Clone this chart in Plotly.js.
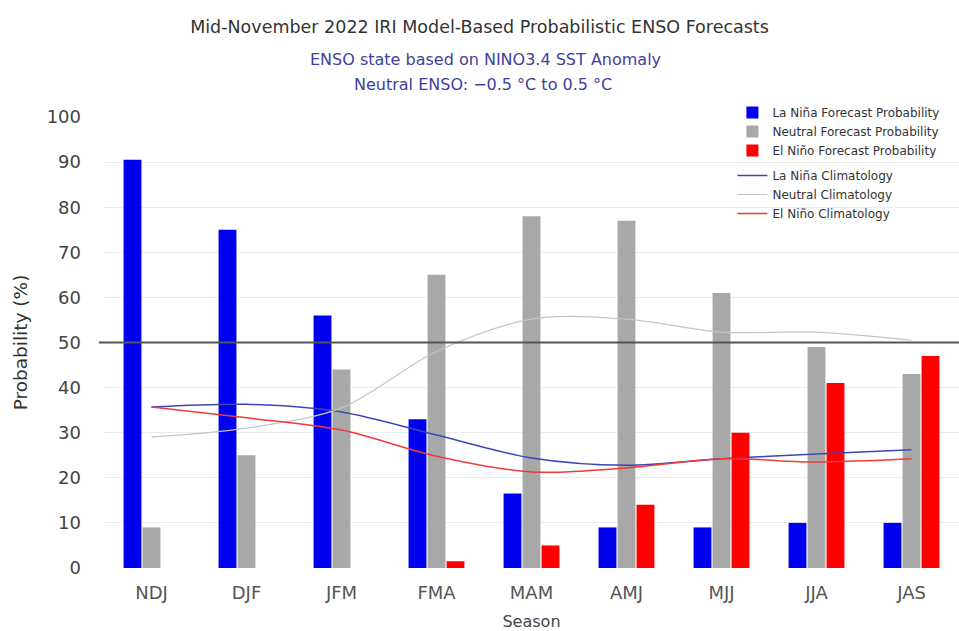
<!DOCTYPE html>
<html>
<head>
<meta charset="utf-8">
<script src="https://cdn.plot.ly/plotly-3.0.1.min.js"></script>
<style>html,body{margin:0;padding:0;background:#fff;}#chart{width:959px;height:631px;}</style>
</head>
<body>
<div id="chart"></div>
<script>
const seasons = ['NDJ','DJF','JFM','FMA','MAM','AMJ','MJJ','JJA','JAS'];
const laNinaProb = [90.5, 75, 56, 33, 16.5, 9, 9, 10, 10];
const neutralProb = [9, 25, 44, 65, 78, 77, 61, 49, 43];
const elNinoProb = [0, 0, 0, 1.5, 5, 14, 30, 41, 47];
const laNinaClim = [35.7, 36.3, 34.6, 29.5, 24.4, 22.8, 24.2, 25.3, 26.2];
const neutralClim = [29, 31, 35.5, 48, 55.2, 55.2, 52.3, 52.3, 50.5];
const elNinoClim = [35.7, 33.3, 30.6, 24.8, 21.3, 22.2, 24.2, 23.5, 24.2];
const yTicks = [0,10,20,30,40,50,60,70,80,90,100];

const FONT = 'DejaVu Sans, Verdana, sans-serif';

const traces = [
  {type:'bar', x:seasons, y:laNinaProb, name:'La Niña Forecast Probability', marker:{color:'#0000f0'}, legendgroup:'a'},
  {type:'bar', x:seasons, y:neutralProb, name:'Neutral Forecast Probability', marker:{color:'#a8a8a8'}, legendgroup:'a'},
  {type:'bar', x:seasons, y:elNinoProb, name:'El Niño Forecast Probability', marker:{color:'#ff0000'}, legendgroup:'a'},
  {type:'scatter', mode:'lines', x:seasons, y:laNinaClim, name:'La Niña Climatology', line:{color:'#3b46b8', width:1.5, shape:'spline', smoothing:0.9}, legendgroup:'b'},
  {type:'scatter', mode:'lines', x:seasons, y:neutralClim, name:'Neutral Climatology', line:{color:'#c4c4c4', width:1.2, shape:'spline', smoothing:0.9}, legendgroup:'b'},
  {type:'scatter', mode:'lines', x:seasons, y:elNinoClim, name:'El Niño Climatology', line:{color:'#f03a3a', width:1.5, shape:'spline', smoothing:0.9}, legendgroup:'b'}
];

const layout = {
  width:959, height:631,
  margin:{l:104, r:0, t:117, b:63},
  paper_bgcolor:'#fff', plot_bgcolor:'#fff',
  font:{family:FONT, color:'#444'},
  barmode:'group', bargap:0.4, bargroupgap:0.06,
  title:{text:'Mid-November 2022 IRI Model-Based Probabilistic ENSO Forecasts', x:0.5, xanchor:'center', xref:'container', y:1-27/631, yanchor:'middle', yref:'container', font:{size:17.5, color:'#333', family:FONT}},
  xaxis:{type:'category', range:[-0.5, 8.5], showgrid:false, zeroline:false, showline:false, ticks:'', tickfont:{size:18, color:'#555'}, ticklabelstandoff:12,
         title:{text:'Season', font:{size:16, color:'#444'}, standoff:14}},
  yaxis:{range:[0,100], tickvals:yTicks, ticktext:yTicks.map(String), showgrid:true, gridcolor:'#ececec', zeroline:false, showline:false, ticks:'', tickfont:{size:18, color:'#444'}, ticklabelstandoff:22,
         title:{text:'Probability (%)', font:{size:18.5, color:'#333'}, standoff:14}},
  legend:{x:0.735, xanchor:'left', y:(568-98)/451, yanchor:'top', bgcolor:'rgba(0,0,0,0)', font:{size:12, color:'#333'}, tracegroupgap:6, itemwidth:30},
  shapes:[{type:'line', xref:'paper', x0:-0.006, x1:1, yref:'y', y0:50, y1:50, line:{color:'#555', width:2}}],
  annotations:[
    {text:'ENSO state based on NINO3.4 SST Anomaly', xref:'paper', x:(485-104)/855, xanchor:'center', yref:'paper', y:(568-60)/451, yanchor:'middle', showarrow:false, font:{size:16, color:'#4040a0'}},
    {text:'Neutral ENSO: −0.5 °C to 0.5 °C', xref:'paper', x:(483-104)/855, xanchor:'center', yref:'paper', y:(568-85)/451, yanchor:'middle', showarrow:false, font:{size:16, color:'#4040a0'}}
  ]
};

Plotly.newPlot('chart', traces, layout, {displayModeBar:false, staticPlot:true});
</script>
</body>
</html>
